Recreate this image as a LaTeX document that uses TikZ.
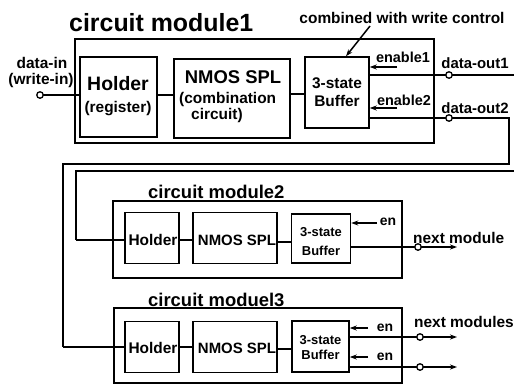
\documentclass[tikz,border=0pt]{standalone}
\usepackage{fontspec}
\setmainfont{Liberation Sans}
\usetikzlibrary{arrows.meta,calc}
\newcommand{\fs}[1]{\bfseries\fontsize{#1}{#1}\selectfont}
\begin{document}
\begin{tikzpicture}[x=1bp,y=-1bp,
  box/.style={draw, line width=1.5bp, inner sep=0pt},
  wire/.style={line width=1.5bp},
  txt/.style={inner sep=0pt},
  arr/.style={wire, -{Stealth[length=7bp,width=5bp]}},
  port/.style={circle, draw, line width=1.3bp, fill=white, minimum size=6.5bp, inner sep=0pt}
]
\useasboundingbox (0,0) rectangle (514,385);

% ---------- module 1 ----------
\node[txt, anchor=west, font=\fs{25}] (t1) at (69,23) {circuit module1};
\node[box, minimum width=359bp, minimum height=104bp] (m1) at (254.5,91) {};
\node[box, minimum width=77bp, minimum height=80bp] (h1) at (118.5,97) {};
\node[box, minimum width=116bp, minimum height=79bp] (n1) at (232,98.5) {};
\node[box, minimum width=64bp, minimum height=71bp] (b1) at (337,92.5) {};

\node[txt, font=\fs{19.5}] (h1a) at (118,84) {Holder};
\node[txt, font=\fs{15.5}] (h1b) at (118,109) {(register)};
\node[txt, font=\fs{18.5}] (n1a) at (233,77) {NMOS SPL};
\node[txt, anchor=west, font=\fs{15.5}] (n1b) at (179,100) {(combination};
\node[txt, anchor=west, font=\fs{15.5}] (n1c) at (191,116) {circuit)};
\node[txt, font=\fs{15.5}] (b1a) at (337,83) {3-state};
\node[txt, font=\fs{15.5}] (b1b) at (337,101) {Buffer};

\node[txt, font=\fs{15.5}] (din1) at (42,63) {data-in};
\node[txt, font=\fs{15.5}] (din2) at (41,81) {(write-in)};
\node[txt, font=\fs{15.5}] (cwl) at (402,18) {combined with write control};
\node[txt, font=\fs{14.5}] (e1l) at (403,57) {enable1};
\node[txt, font=\fs{14.5}] (e2l) at (404,100) {enable2};
\node[txt, font=\fs{15}] (o1l) at (475,63) {data-out1};
\node[txt, font=\fs{15}] (o2l) at (475,108) {data-out2};

\coordinate (pin) at (40,95);
\coordinate (po1) at (449,75);
\coordinate (po2) at (449,118);
\coordinate (r1) at (514,75);
\coordinate (e1s) at (397,67);
\coordinate (e2s) at (397,108);
\coordinate (cws) at (370,26);

\draw[wire] (pin) -- (h1.west |- pin);
\draw[wire] (h1.east |- pin) -- (n1.west |- pin);
\draw[wire] (n1.east |- 0,94) -- (b1.west |- 0,94);
\draw[arr] (e1s) -- (b1.east |- e1s);
\draw[arr] (e2s) -- (b1.east |- e2s);
\draw[arr] (cws) -- ($(b1.north)+(9,0)$);
\draw[wire] (b1.east |- po1) -- (r1);

% data-out2 route to module 3
\coordinate (c1) at (509,118);
\coordinate (c2) at (509,164);
\coordinate (c3) at (63,164);
\coordinate (c4) at (63,347);
\draw[wire] (b1.east |- po2) -- (c1) -- (c2) -- (c3) -- (c4);

% line from right edge to module 2
\coordinate (d1) at (514,171);
\coordinate (d2) at (76,171);
\coordinate (d3) at (76,240);
\draw[wire] (d1) -- (d2) -- (d3);

% ---------- module 2 ----------
\node[txt, anchor=west, font=\fs{18.5}] (t2) at (148,192) {circuit module2};
\node[box, minimum width=289bp, minimum height=77bp] (m2) at (257.5,239.5) {};
\node[box, minimum width=54bp, minimum height=51bp] (h2) at (152,238) {};
\node[box, minimum width=84bp, minimum height=51bp] (n2) at (235,238) {};
\node[box, minimum width=59bp, minimum height=49bp] (b2) at (321,238.5) {};
\node[txt, font=\fs{15.5}] (h2a) at (153,240) {Holder};
\node[txt, font=\fs{15}] (n2a) at (237,240) {NMOS SPL};
\node[txt, font=\fs{13}] (b2a) at (321,232) {3-state};
\node[txt, font=\fs{13}] (b2b) at (321,251) {Buffer};
\node[txt, font=\fs{14}] (en2l) at (388,222) {en};
\node[txt, anchor=west, font=\fs{15.5}] (nm2) at (413,238) {next module};

\coordinate (en2s) at (377,223);
\coordinate (po3) at (418,247);
\coordinate (a2) at (457,247);
\draw[wire] (d3) -- (h2.west |- d3);
\draw[wire] (h2.east |- d3) -- (n2.west |- d3);
\draw[wire] (n2.east |- 0,242) -- (b2.west |- 0,242);
\draw[arr] (en2s) -- (b2.east |- en2s);
\draw[arr] (b2.east |- a2) -- (a2);

% ---------- module 3 ----------
\node[txt, anchor=west, font=\fs{18.5}] (t3) at (148,300) {circuit moduel3};
\node[box, minimum width=288bp, minimum height=75bp] (m3) at (258,345.5) {};
\node[box, minimum width=54bp, minimum height=51bp] (h3) at (152,347) {};
\node[box, minimum width=84bp, minimum height=51bp] (n3) at (235,347) {};
\node[box, minimum width=57bp, minimum height=51bp] (b3) at (320.5,346.5) {};
\node[txt, font=\fs{15.5}] (h3a) at (153,348) {Holder};
\node[txt, font=\fs{15}] (n3a) at (237,348) {NMOS SPL};
\node[txt, font=\fs{13}] (b3a) at (320.5,340) {3-state};
\node[txt, font=\fs{13}] (b3b) at (320.5,355) {Buffer};
\node[txt, font=\fs{14}] (en3l) at (385,328) {en};
\node[txt, font=\fs{14}] (en4l) at (385,357) {en};
\node[txt, anchor=west, font=\fs{15.5}] (nm3) at (414,322) {next modules};

\coordinate (en3s) at (368,328);
\coordinate (en4s) at (368,357);
\coordinate (po4) at (420,337);
\coordinate (po5) at (420,367);
\coordinate (a3) at (457,337);
\coordinate (a4) at (457,367);
\draw[wire] (c4) -- (h3.west |- c4);
\draw[wire] (h3.east |- c4) -- (n3.west |- c4);
\draw[wire] (n3.east |- 0,349) -- (b3.west |- 0,349);
\draw[arr] (en3s) -- (b3.east |- en3s);
\draw[arr] (en4s) -- (b3.east |- en4s);
\draw[arr] (b3.east |- a3) -- (a3);
\draw[arr] (b3.east |- a4) -- (a4);

% ---------- ports ----------
\node[port] (pinp) at (pin) {};
\node[port] (po1p) at (po1) {};
\node[port] (po2p) at (po2) {};
\node[port] (po3p) at (po3) {};
\node[port] (po4p) at (po4) {};
\node[port] (po5p) at (po5) {};
\end{tikzpicture}
\end{document}
